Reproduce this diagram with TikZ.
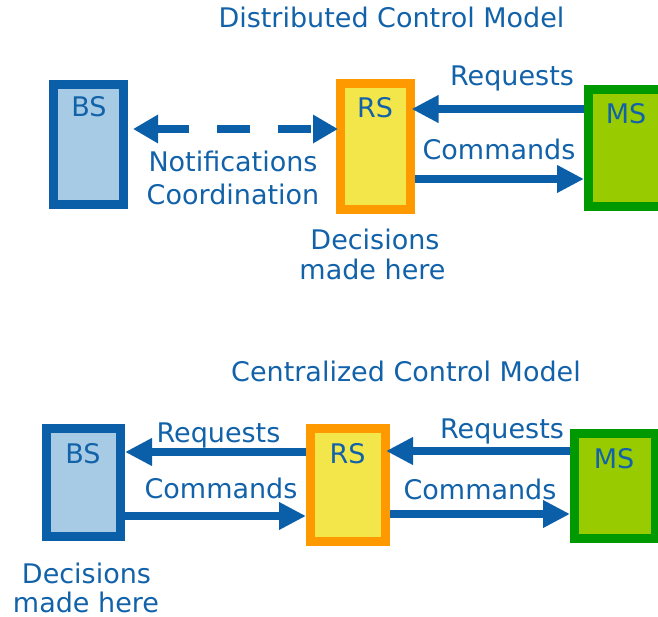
\documentclass[tikz,border=0pt]{standalone}
\usepackage{fontspec}
\setmainfont{DejaVu Sans}
\usetikzlibrary{arrows.meta}
\definecolor{txtblue}{HTML}{1262AA}
\definecolor{arrblue}{HTML}{0B5FA8}
\definecolor{bsfill}{HTML}{A7CBE5}
\definecolor{bsborder}{HTML}{0B5FA8}
\definecolor{rsfill}{HTML}{F2E64B}
\definecolor{rsborder}{HTML}{FF9900}
\definecolor{msfill}{HTML}{99CC00}
\definecolor{msborder}{HTML}{009900}
\tikzset{
  lbl/.style={anchor=base, inner sep=0pt, text=txtblue, font=\fontsize{27}{32}\selectfont},
  box/.style={rectangle, line width=9pt, inner sep=0pt},
  bsbox/.style={box, draw=bsborder, fill=bsfill},
  rsbox/.style={box, draw=rsborder, fill=rsfill},
  msbox/.style={box, draw=msborder, fill=msfill},
  arr/.style={draw=arrblue, line width=8pt, -{Triangle[length=27pt,width=26pt]}},
  darr/.style={draw=arrblue, line width=8.5pt, dash pattern=on 33pt off 28pt,
    {Triangle[length=25pt,width=27pt]}-{Triangle[length=25pt,width=27pt]}},
}
\begin{document}
\begin{tikzpicture}[x=1pt,y=-1pt]
\useasboundingbox (0,0) rectangle (658,617);
\clip (0,0) rectangle (658,617);

% ---------- Distributed Control Model ----------
\node[lbl] (t1) at (391.5,28) {Distributed Control Model};
\node[bsbox, minimum width=70pt, minimum height=120pt] (bs1) at (88.5,144.5) {};
\node[rsbox, minimum width=70pt, minimum height=126pt] (rs1) at (375.5,146.5) {};
\node[msbox, minimum width=100pt, minimum height=117pt] (ms1) at (638.5,148) {};
\node[lbl] (bs1t) at (89,117) {BS};
\node[lbl] (rs1t) at (375,118) {RS};
\node[lbl] (ms1t) at (626,124) {MS};

\draw[arr, shorten >=-3.5pt] (ms1.west |- 0,109) -- (rs1.east |- 0,109);
\draw[arr] (rs1.east |- 0,179) -- (ms1.west |- 0,179);
\draw[darr, shorten <=5pt, shorten >=-2pt] (bs1.east |- 0,129) -- (rs1.west |- 0,129);

\node[lbl] (rq1) at (512,86) {Requests};
\node[lbl] (cm1) at (499,160) {Commands};
\node[lbl] (nt1) at (233,172) {Notifications};
\node[lbl] (co1) at (233,205) {Coordination};
\node[lbl] (de1a) at (375,250) {Decisions};
\node[lbl] (de1b) at (372.5,280) {made here};

% ---------- Centralized Control Model ----------
\node[lbl] (t2) at (406,381) {Centralized Control Model};
\node[bsbox, minimum width=74pt, minimum height=108pt] (bs2) at (83.5,482.5) {};
\node[rsbox, minimum width=75pt, minimum height=113pt] (rs2) at (348,485) {};
\node[msbox, minimum width=81pt, minimum height=105pt] (ms2) at (615,486) {};
\node[lbl] (bs2t) at (83,463) {BS};
\node[lbl] (rs2t) at (347.5,463) {RS};
\node[lbl] (ms2t) at (614,468) {MS};

\draw[arr] (rs2.west |- 0,452) -- (bs2.east |- 0,452);
\draw[arr] (bs2.east |- 0,516) -- (rs2.west |- 0,516);
\draw[arr, shorten >=-4pt] (ms2.west |- 0,451) -- (rs2.east |- 0,451);
\draw[arr] (rs2.east |- 0,514) -- (ms2.west |- 0,514);

\node[lbl] (rq2) at (218.5,442) {Requests};
\node[lbl] (cm2) at (221,498) {Commands};
\node[lbl] (rq3) at (502,438) {Requests};
\node[lbl] (cm3) at (480,499) {Commands};
\node[lbl] (de2a) at (86.5,583) {Decisions};
\node[lbl] (de2b) at (86,612) {made here};
\end{tikzpicture}
\end{document}
